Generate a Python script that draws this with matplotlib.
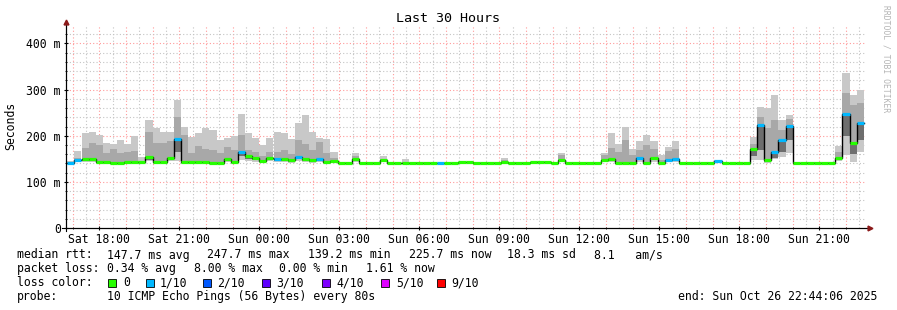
import matplotlib
matplotlib.use("Agg")
import matplotlib.pyplot as plt
from matplotlib.patches import Rectangle
from matplotlib.lines import Line2D

W, H = 897, 310

# ---------------- data (ms) ----------------
# 112 bins of 16 minutes starting Sat 16:48 (hours counted from Sat 00:00)
bin_start_h = 16.8
bin_len_h = 16 / 60

median = [140, 147, 149, 149, 143, 142, 141, 141, 142, 142, 142, 153, 142, 142, 152, 192,
          142, 143, 143, 143, 141, 141, 149, 143, 165, 156, 151, 146, 152, 150, 150, 147,
          154, 150, 147, 150, 142, 146, 141, 141, 149, 140, 141, 141, 147, 140, 140, 141,
          141, 141, 141, 141, 140, 141, 141, 142, 142, 141, 141, 141, 141, 142, 141, 141,
          141, 142, 142, 142, 141, 147, 141, 141, 141, 141, 141, 147, 149, 141, 141, 140,
          151, 141, 151, 140, 147, 150, 140, 140, 141, 141, 141, 146, 140, 141, 140, 140,
          172, 223, 147, 165, 190, 222, 140, 140, 141, 141, 141, 141, 152, 248, 185, 227]

loss = [1, 1, 0, 0, 0, 0, 0, 0, 0, 0, 0, 0, 0, 0, 0, 1,
        0, 0, 0, 0, 0, 0, 0, 0, 1, 0, 0, 0, 0, 1, 0, 0,
        1, 0, 0, 1, 0, 0, 0, 0, 0, 0, 0, 0, 0, 0, 0, 0,
        0, 0, 0, 0, 1, 0, 0, 0, 0, 0, 0, 0, 0, 0, 0, 0,
        0, 0, 0, 0, 0, 0, 0, 0, 0, 0, 0, 0, 0, 0, 0, 0,
        1, 0, 0, 0, 1, 1, 0, 0, 0, 0, 0, 1, 0, 0, 0, 0,
        0, 1, 0, 1, 1, 1, 0, 0, 0, 0, 0, 0, 0, 1, 0, 1]

ping_max = [145, 167, 206, 208, 202, 185, 181, 190, 183, 199, 154, 234, 216, 208, 208, 277,
            219, 198, 206, 216, 212, 190, 196, 199, 247, 206, 196, 180, 196, 208, 205, 193,
            227, 245, 208, 196, 193, 165, 142, 142, 162, 141, 143, 142, 156, 143, 141, 149,
            142, 144, 142, 142, 141, 142, 142, 143, 143, 142, 142, 142, 142, 152, 142, 143,
            142, 142, 145, 145, 142, 163, 142, 144, 142, 142, 142, 163, 205, 183, 219, 172,
            189, 201, 189, 158, 176, 189, 140, 141, 141, 141, 143, 147, 143, 141, 141, 141,
            198, 263, 260, 288, 235, 245, 141, 141, 144, 144, 142, 144, 178, 335, 288, 299]

ping_q3 = [141, 152, 173, 184, 180, 162, 172, 162, 165, 166, 146, 208, 184, 185, 188, 241,
           201, 162, 178, 172, 168, 162, 176, 169, 201, 169, 165, 155, 165, 165, 170, 160,
           190, 183, 170, 187, 163, 152, 141, 141, 156, 141, 142, 141, 150, 141, 141, 143,
           141, 142, 141, 141, 141, 141, 141, 142, 142, 141, 141, 141, 141, 147, 141, 142,
           141, 142, 143, 143, 141, 158, 141, 142, 141, 141, 141, 158, 173, 165, 190, 158,
           168, 180, 171, 148, 166, 172, 140, 140, 141, 141, 142, 146, 141, 141, 140, 140,
           183, 241, 216, 234, 212, 237, 140, 140, 142, 142, 141, 142, 165, 292, 266, 270]

ping_q1 = [139, 145, 146, 146, 141, 140, 140, 140, 140, 140, 140, 148, 140, 140, 148, 165,
           140, 141, 141, 141, 140, 140, 145, 141, 155, 150, 147, 143, 148, 146, 146, 144,
           149, 146, 144, 146, 140, 143, 140, 140, 146, 139, 140, 140, 144, 139, 139, 140,
           140, 140, 140, 140, 139, 140, 140, 141, 141, 140, 140, 140, 140, 141, 140, 140,
           140, 141, 141, 141, 140, 144, 140, 140, 140, 140, 140, 144, 146, 140, 140, 139,
           147, 140, 147, 139, 144, 146, 139, 139, 140, 140, 140, 144, 139, 140, 139, 139,
           155, 169, 143, 152, 165, 190, 139, 139, 140, 140, 140, 140, 149, 200, 160, 190]

ping_min = [138, 143, 143, 143, 139, 139, 139, 139, 139, 139, 139, 145, 139, 139, 145, 145,
            139, 139, 139, 139, 139, 139, 142, 139, 148, 146, 144, 141, 145, 143, 143, 141,
            146, 143, 141, 143, 139, 141, 139, 139, 143, 138, 139, 139, 142, 138, 138, 139,
            139, 139, 139, 139, 138, 139, 139, 140, 140, 139, 139, 139, 139, 140, 139, 139,
            139, 140, 140, 140, 139, 142, 139, 139, 139, 139, 139, 142, 143, 139, 139, 138,
            144, 139, 144, 138, 142, 143, 138, 138, 139, 139, 139, 142, 138, 139, 138, 138,
            147, 147, 140, 150, 154, 162, 138, 138, 139, 139, 139, 139, 145, 158, 144, 165]

loss_colors = ["#26ff00", "#00b8ff", "#0059ff", "#5e00ff", "#7e00ff", "#dd00ff", "#ff0000"]
loss_labels = ["0", "1/10", "2/10", "3/10", "4/10", "5/10", "9/10"]

x_tick_hours = [18, 21, 24, 27, 30, 33, 36, 39, 42, 45]
x_tick_labels = ["Sat 18:00", "Sat 21:00", "Sun 00:00", "Sun 03:00", "Sun 06:00",
                 "Sun 09:00", "Sun 12:00", "Sun 15:00", "Sun 18:00", "Sun 21:00"]
y_ticks = [0, 100, 200, 300, 400]
y_tick_labels = ["0", "100 m", "200 m", "300 m", "400 m"]

t_start = 16 + 44 / 60
t_end = 46 + 44 / 60

# ---------------- figure ----------------
MONO = "DejaVu Sans Mono"
FS = 8.3
fig = plt.figure(figsize=(W / 100, H / 100), dpi=100)
fig.patch.set_facecolor("white")

ax_l, ax_r, ax_t, ax_b = 65.5, 865.5, 25, 228
ax = fig.add_axes([ax_l / W, 1 - ax_b / H, (ax_r - ax_l) / W, (ax_b - ax_t) / H])
ax.set_xlim(t_start, t_end)
ax.set_ylim(0, 440)
ax.set_facecolor("white")

# grid
for h in range(17, 47):
    ax.axvline(h, color="#ff9a9a", lw=0.8, ls=(0, (1, 2)), zorder=1)
for h in range(17, 47):
    ax.axvline(h + 0.5, color="#c4c4c4", lw=0.8, ls=(0, (1, 2)), zorder=1)
for v in range(20, 440, 20):
    if v % 100 == 0:
        ax.axhline(v, color="#ff9a9a", lw=0.8, ls=(0, (1, 2)), zorder=1)
    else:
        ax.axhline(v, color="#c4c4c4", lw=0.8, ls=(0, (1, 2)), zorder=1)

n = len(median)
lefts = [bin_start_h + k * bin_len_h for k in range(n)]

# smoke
ax.bar(lefts, [ping_max[k] - ping_min[k] for k in range(n)], bottom=ping_min,
       width=bin_len_h, align="edge", color="#c8c8c8", lw=0, zorder=2)
ax.bar(lefts, [ping_q3[k] - ping_q1[k] for k in range(n)], bottom=ping_q1,
       width=bin_len_h, align="edge", color="#a8a8a8", lw=0, zorder=3)
ax.bar(lefts, [median[k] - ping_q1[k] for k in range(n)], bottom=ping_q1,
       width=bin_len_h, align="edge", color="#6e6e6e", lw=0, zorder=3)

# median black step line
xs, ys = [], []
for k in range(n):
    xs += [lefts[k], lefts[k] + bin_len_h]
    ys += [median[k], median[k]]
ax.plot(xs, ys, color="black", lw=1.0, zorder=4, solid_joinstyle="miter")
# coloured median segments
for k in range(n):
    ax.plot([lefts[k], lefts[k] + bin_len_h], [median[k], median[k]],
            color=loss_colors[loss[k]], lw=2.3, solid_capstyle="butt", zorder=5)

# axes styling
for s in ["top", "right"]:
    ax.spines[s].set_visible(False)
ax.spines["left"].set_linewidth(0.8)
ax.spines["bottom"].set_linewidth(0.8)
ax.spines["left"].set_zorder(6)
ax.spines["bottom"].set_zorder(6)

ax.set_xticks(x_tick_hours)
ax.set_xticklabels(x_tick_labels, fontfamily=MONO, fontsize=FS)
ax.set_xticks(list(range(17, 47)), minor=True)
ax.set_yticks(y_ticks)
ax.set_yticklabels(y_tick_labels, fontfamily=MONO, fontsize=FS)
ax.set_yticks(list(range(20, 440, 20)), minor=True)
ax.tick_params(axis="both", which="major", length=3, width=0.8, direction="inout", pad=2)
ax.tick_params(axis="both", which="minor", length=2, width=0.6, direction="inout")

# axis extensions and arrows (figure pixel coords)
def fx(x):
    return x / W

def fy(y):
    return 1 - y / H

fig.add_artist(Line2D([fx(62), fx(868)], [fy(228), fy(228)], color="black", lw=0.8))
fig.add_artist(Line2D([fx(65.5), fx(65.5)], [fy(231), fy(22)], color="black", lw=0.8))
fig.add_artist(Line2D([fx(869.5)], [fy(228)], marker=">", color="#8b1a1a", markersize=3.5, lw=0))
fig.add_artist(Line2D([fx(65.5)], [fy(22)], marker="^", color="#8b1a1a", markersize=3.5, lw=0))

# title, labels
fig.text(fx(448), fy(19), "Last 30 Hours", fontfamily=MONO, fontsize=9.6,
         ha="center", va="center")
fig.text(fx(11), fy(126), "Seconds", fontfamily=MONO, fontsize=FS, rotation=90,
         ha="center", va="center")
fig.text(fx(886), fy(5), "RRDTOOL / TOBI OETIKER", fontfamily=MONO, fontsize=5.8,
         rotation=-90, ha="center", va="top", color="#b4b4b4")

# legend rows
def txt(x, y, s):
    fig.text(fx(x), fy(y), s, fontfamily=MONO, fontsize=FS, ha="left", va="center")

r1, r2, r3, r4 = 255, 268.5, 282.5, 296.5
txt(16.7, r1, "median rtt:")
txt(107.3, r1, "147.7 ms avg")
txt(207.3, r1, "247.7 ms max")
txt(307.7, r1, "139.2 ms min")
txt(409, r1, "225.7 ms now")
txt(507.3, r1, "18.3 ms sd")
txt(594, r1, "8.1   am/s")

txt(16.7, r2, "packet loss:")
txt(107.3, r2, "0.34 % avg")
txt(194, r2, "8.00 % max")
txt(279.3, r2, "0.00 % min")
txt(365.7, r2, "1.61 % now")

txt(16.7, r3, "loss color:")
sq_x = [108, 146, 203, 262, 321.7, 380.7, 436.7]
lab_x = [123.3, 160, 217, 276, 336.7, 396, 451.5]
for c, lab, sx, lx in zip(loss_colors, loss_labels, sq_x, lab_x):
    fig.add_artist(Rectangle((fx(sx), fy(r3 + 4)), 8 / W, 8 / H, facecolor=c,
                             edgecolor="black", lw=0.6))
    txt(lx, r3, lab)

txt(16.7, r4, "probe:")
txt(107.3, r4, "10 ICMP Echo Pings (56 Bytes) every 80s")
txt(678.3, r4, "end: Sun Oct 26 22:44:06 2025")

fig.savefig("out.png", dpi=100, facecolor="white")
